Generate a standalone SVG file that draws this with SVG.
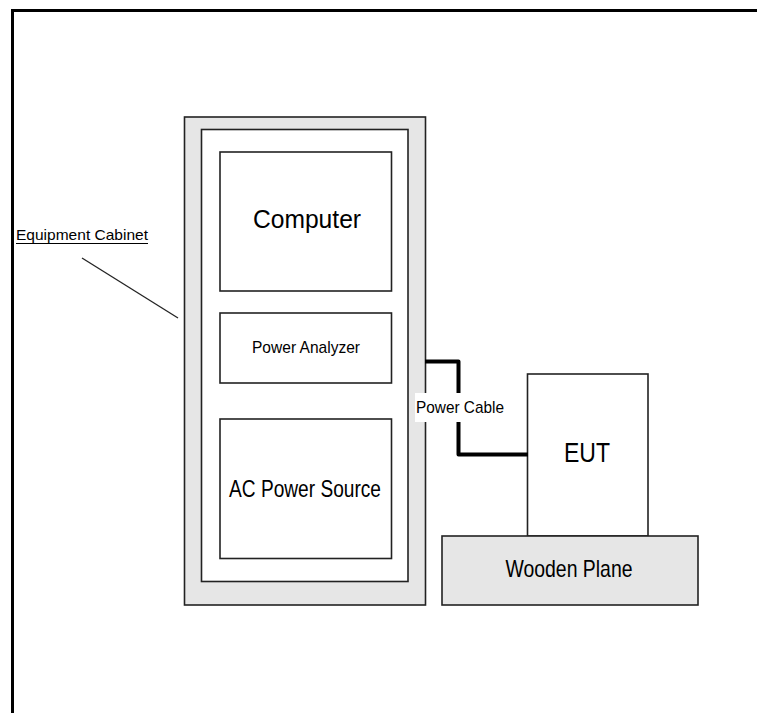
<svg xmlns="http://www.w3.org/2000/svg" width="757" height="713" viewBox="0 0 757 713">
<style>
.box{stroke:#222;stroke-width:1.6}
.gray{fill:#e6e6e6}
.white{fill:#ffffff}
text{font-family:"Liberation Sans",Arial,sans-serif;fill:#000}
</style>
<rect width="757" height="713" fill="#fff"/>
<g id="frame">
<path d="M12.5 713 V10.5 H757" fill="none" stroke="#000" stroke-width="3"/>
</g>
<g id="equipment-cabinet">
<rect class="box gray" x="184.5" y="117" width="241" height="488"/>
<rect class="box white" x="201.5" y="129.5" width="206.5" height="452"/>
</g>
<g id="computer">
<rect class="box white" x="220" y="152" width="171.5" height="139"/>
<text x="307" y="228" font-size="25" text-anchor="middle" textLength="108" lengthAdjust="spacingAndGlyphs">Computer</text>
</g>
<g id="power-analyzer">
<rect class="box white" x="220" y="313" width="171.5" height="70"/>
<text x="306" y="353" font-size="17" text-anchor="middle" textLength="108" lengthAdjust="spacingAndGlyphs">Power Analyzer</text>
</g>
<g id="ac-power-source">
<rect class="box white" x="220" y="419" width="171.5" height="139.5"/>
<text x="305" y="497" font-size="23" text-anchor="middle" textLength="152" lengthAdjust="spacingAndGlyphs">AC Power Source</text>
</g>
<g id="eut">
<rect class="box white" x="527.5" y="374" width="120.5" height="162"/>
<text x="587" y="462" font-size="28" text-anchor="middle" textLength="46" lengthAdjust="spacingAndGlyphs">EUT</text>
</g>
<g id="wooden-plane">
<rect class="box gray" x="442" y="536" width="256" height="69"/>
<text x="569" y="577" font-size="24" text-anchor="middle" textLength="127" lengthAdjust="spacingAndGlyphs">Wooden  Plane</text>
</g>
<g id="connectors">
<path d="M425 361.5 H458.5 V454.5 H528" fill="none" stroke="#000" stroke-width="4" stroke-linejoin="round"/>
<rect x="415" y="393" width="90" height="29" fill="#fff"/>
<text x="460" y="413" font-size="17" text-anchor="middle" textLength="88" lengthAdjust="spacingAndGlyphs">Power Cable</text>
<line x1="82" y1="258" x2="178" y2="318" stroke="#222" stroke-width="1.3"/>
</g>
<g id="cabinet-label">
<text x="16" y="240" font-size="15" textLength="132" lengthAdjust="spacingAndGlyphs">Equipment Cabinet</text>
<line x1="16" y1="243.5" x2="148" y2="243.5" stroke="#000" stroke-width="1.2"/>
</g>
</svg>
